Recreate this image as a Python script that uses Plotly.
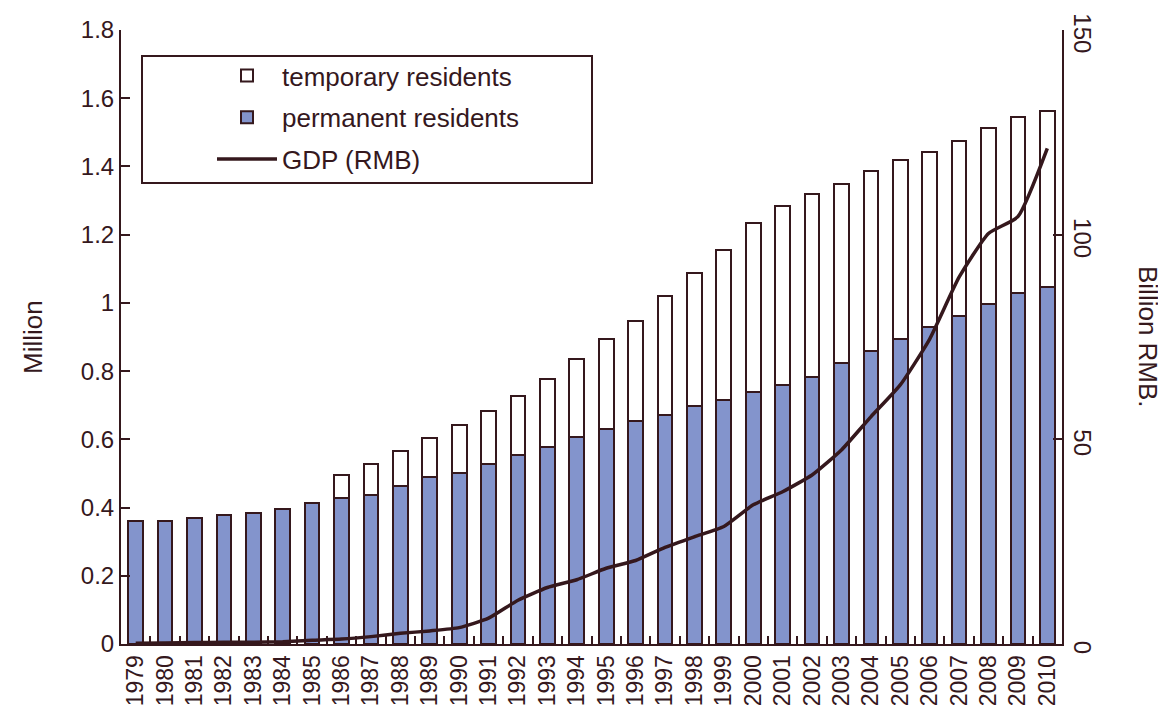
import plotly.graph_objects as go

years = [str(y) for y in range(1979, 2011)]
permanent = [0.360, 0.360, 0.370, 0.378, 0.385, 0.395, 0.412, 0.427, 0.438, 0.462,
             0.489, 0.502, 0.528, 0.553, 0.578, 0.607, 0.631, 0.655, 0.671, 0.697,
             0.714, 0.740, 0.759, 0.784, 0.823, 0.858, 0.895, 0.928, 0.962, 0.997,
             1.030, 1.048]
temporary = [None, None, None, None, None, None, None, 0.069, 0.091, 0.103,
             0.115, 0.139, 0.156, 0.174, 0.198, 0.228, 0.262, 0.292, 0.348, 0.390,
             0.442, 0.495, 0.526, 0.534, 0.526, 0.528, 0.523, 0.515, 0.513, 0.517,
             0.514, 0.515]
gdp = [0.2, 0.25, 0.35, 0.4, 0.45, 0.55, 0.9, 1.2, 1.8, 2.6,
       3.2, 4.0, 6.3, 10.7, 13.8, 15.7, 18.5, 20.4, 23.6, 26.2,
       28.7, 34.0, 37.2, 41.3, 47.4, 55.5, 63.3, 74.5, 89.6, 100.3,
       104.4, 121.1]

DARK = "#35181d"
BLUE = "#8394cc"
FONT = "Liberation Sans, Arial, sans-serif"

fig = go.Figure()
fig.add_trace(go.Bar(
    x=years, y=permanent, name="permanent residents",
    marker=dict(color=BLUE, line=dict(color=DARK, width=2)),
    legendgroup="b", legendrank=2,
))
fig.add_trace(go.Bar(
    x=years, y=temporary, name="temporary residents",
    marker=dict(color="white", line=dict(color=DARK, width=2)),
    legendgroup="a", legendrank=1,
))
fig.add_trace(go.Scatter(
    x=years, y=gdp, name="GDP (RMB)", yaxis="y2", mode="lines",
    line=dict(color=DARK, width=3.5, shape="spline", smoothing=0.5),
    legendgroup="c", legendrank=3,
))

# the page body has an 8px default margin, so the figure is drawn 8px in
OFF = 8
PX_L, PX_R, PX_T, PX_B = 121, 1062, 30, 644   # plot area in page pixels
W, H = 1166 - OFF, 710 - OFF
L, T = PX_L - OFF, PX_T - OFF
R, B = 1166 - PX_R, 710 - PX_B
pw = PX_R - PX_L
ph = PX_B - PX_T

def px_x(x):
    return (x - PX_L) / pw

def px_y(y):
    return (PX_B - y) / ph

fig.update_layout(
    width=W, height=H, autosize=False,
    margin=dict(l=L, r=R, t=T, b=B, pad=0, autoexpand=False),
    paper_bgcolor="white", plot_bgcolor="white",
    font=dict(family=FONT, color=DARK, size=24),
    barmode="stack", bargap=0.5,
    showlegend=True,
    legend=dict(
        x=px_x(212), y=px_y(52), xanchor="left", yanchor="top",
        bgcolor="rgba(0,0,0,0)", borderwidth=0,
        font=dict(family=FONT, size=26, color=DARK),
        traceorder="grouped", tracegroupgap=5, itemwidth=60,
    ),
    xaxis=dict(
        type="category", range=[-0.5, 31.5], automargin=False,
        tickangle=-90, tickfont=dict(size=23),
        ticks="inside", tickson="boundaries", ticklen=8, tickwidth=2, tickcolor=DARK,
        showline=True, linewidth=2, linecolor=DARK, showgrid=False,
    ),
    yaxis=dict(
        range=[0, 1.8], dtick=0.2, tick0=0, automargin=False,
        ticks="inside", ticklen=9, tickwidth=2, tickcolor=DARK,
        showline=True, linewidth=2, linecolor=DARK,
        showgrid=False, zeroline=False, tickfont=dict(size=24),
        ticklabeloverflow="allow",
    ),
    yaxis2=dict(
        range=[0, 150], dtick=50, tick0=0, overlaying="y", side="right",
        tickangle=90, automargin=False, ticklabelshift=7,
        ticks="inside", ticklen=9, tickwidth=2, tickcolor=DARK,
        showline=True, linewidth=2, linecolor=DARK,
        showgrid=False, zeroline=False, tickfont=dict(size=24),
        ticklabeloverflow="allow",
    ),
    shapes=[dict(
        type="rect", xref="paper", yref="paper",
        x0=px_x(142), x1=px_x(592), y0=px_y(183), y1=px_y(56),
        line=dict(color=DARK, width=2), fillcolor="rgba(0,0,0,0)",
    )],
    annotations=[
        dict(text="Million", xref="paper", yref="paper", x=px_x(33), y=0.5,
             xanchor="center", yanchor="middle",
             textangle=-90, showarrow=False, font=dict(size=26, color=DARK, family=FONT)),
        dict(text="Billion RMB.", xref="paper", yref="paper", x=px_x(1148), y=0.5,
             xanchor="center", yanchor="middle",
             textangle=90, showarrow=False, font=dict(size=26, color=DARK, family=FONT)),
    ],
)

fig.write_html("out.html")
